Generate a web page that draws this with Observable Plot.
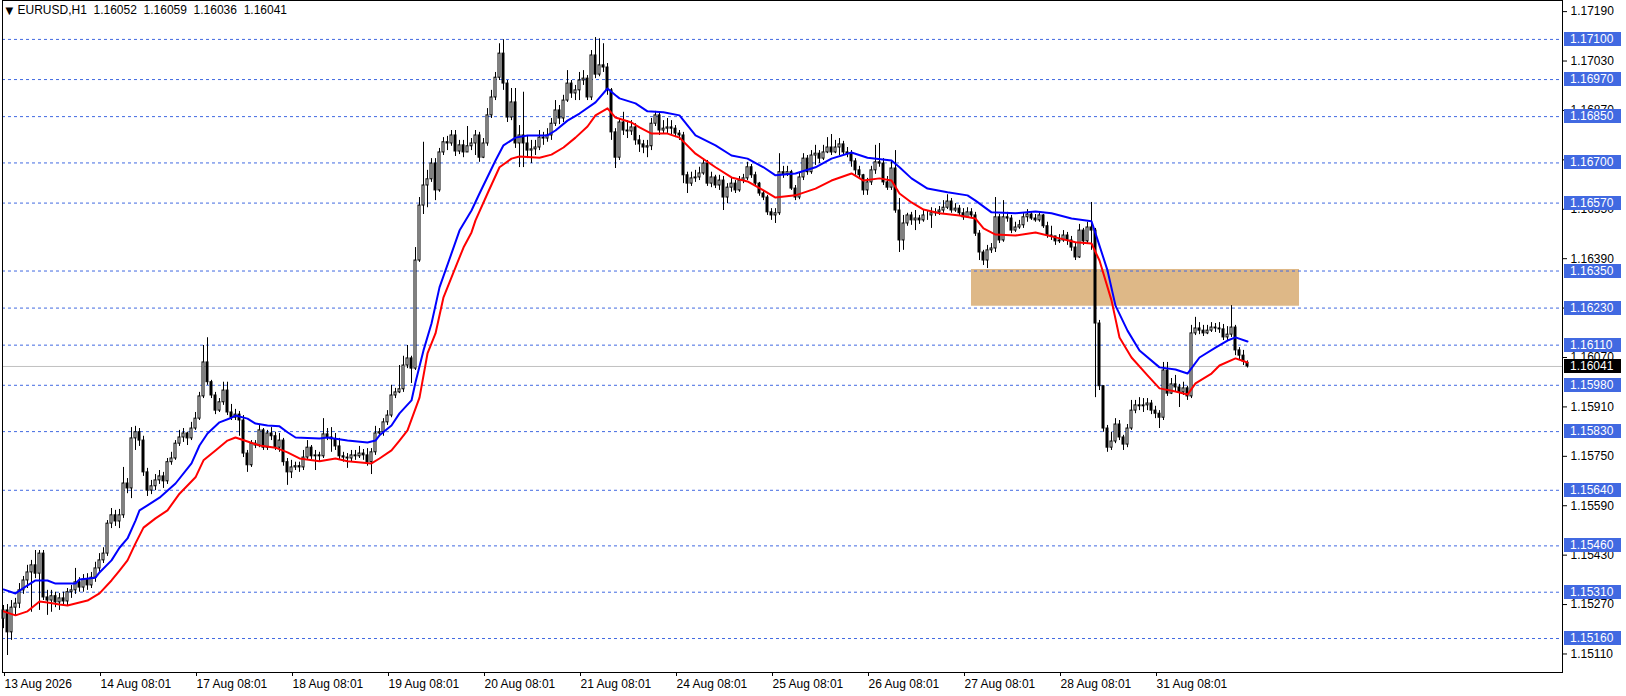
<!DOCTYPE html>
<html><head><meta charset="utf-8">
<script src="https://cdn.jsdelivr.net/npm/d3@7"></script>
<script src="https://cdn.jsdelivr.net/npm/@observablehq/plot@0.6"></script>
<style>html,body{margin:0;padding:0;background:#fff;}#chart{width:1626px;height:696px;overflow:hidden;}</style>
</head><body><div id="chart"></div>
<script>
// ---- EURUSD H1 candles (bar index 0..311) ----
const open = [
1.15224,1.15251,1.15180,1.15260,1.15273,1.15316,1.15348,1.15374,1.15397,1.15370,
1.15435,1.15293,1.15283,1.15297,1.15277,1.15290,1.15280,1.15310,1.15316,1.15342,
1.15325,1.15351,1.15332,1.15357,1.15387,1.15413,1.15435,1.15532,1.15559,1.15539,
1.15559,1.15662,1.15646,1.15808,1.15828,1.15801,1.15698,1.15639,1.15653,1.15672,
1.15685,1.15669,1.15731,1.15743,1.15791,1.15811,1.15824,1.15808,1.15840,1.15872,
1.15944,1.16054,1.15990,1.15947,1.15898,1.15925,1.15963,1.15892,1.15875,1.15885,
1.15866,1.15759,1.15721,1.15791,1.15785,1.15834,1.15778,1.15824,1.15815,1.15778,
1.15801,1.15731,1.15698,1.15714,1.15718,1.15714,1.15746,1.15778,1.15750,1.15753,
1.15750,1.15821,1.15811,1.15805,1.15782,1.15750,1.15746,1.15743,1.15753,1.15750,
1.15759,1.15753,1.15731,1.15763,1.15824,1.15828,1.15860,1.15882,1.15947,1.15957,
1.15967,1.16044,1.16067,1.16034,1.16384,1.16562,1.16627,1.16647,1.16698,1.16611,
1.16734,1.16767,1.16763,1.16789,1.16737,1.16757,1.16734,1.16754,1.16763,1.16789,
1.16717,1.16763,1.16854,1.16912,1.16976,1.17054,1.16957,1.16847,1.16896,1.16763,
1.16789,1.16763,1.16740,1.16744,1.16750,1.16782,1.16779,1.16789,1.16827,1.16870,
1.16844,1.16902,1.16957,1.16925,1.16935,1.16967,1.16973,1.16912,1.17048,1.16986,
1.17016,1.17009,1.16935,1.16799,1.16717,1.16831,1.16805,1.16802,1.16815,1.16773,
1.16760,1.16750,1.16754,1.16827,1.16854,1.16805,1.16811,1.16815,1.16811,1.16795,
1.16789,1.16660,1.16633,1.16650,1.16653,1.16666,1.16698,1.16633,1.16653,1.16627,
1.16643,1.16588,1.16620,1.16633,1.16611,1.16643,1.16650,1.16686,1.16660,1.16633,
1.16601,1.16588,1.16540,1.16530,1.16537,1.16670,1.16663,1.16670,1.16617,1.16588,
1.16653,1.16714,1.16670,1.16724,1.16730,1.16714,1.16734,1.16750,1.16734,1.16750,
1.16760,1.16734,1.16730,1.16705,1.16676,1.16660,1.16611,1.16637,1.16676,1.16702,
1.16698,1.16637,1.16620,1.16682,1.16546,1.16449,1.16504,1.16530,1.16514,1.16520,
1.16514,1.16530,1.16530,1.16537,1.16540,1.16546,1.16555,1.16575,1.16546,1.16552,
1.16537,1.16524,1.16540,1.16530,1.16471,1.16410,1.16384,1.16417,1.16423,1.16524,
1.16449,1.16524,1.16520,1.16481,1.16491,1.16498,1.16524,1.16533,1.16520,1.16514,
1.16530,1.16495,1.16465,1.16462,1.16446,1.16449,1.16465,1.16449,1.16426,1.16394,
1.16481,1.16446,1.16491,1.16481,1.16180,1.15977,1.15840,1.15778,1.15798,1.15853,
1.15811,1.15788,1.15840,1.15898,1.15915,1.15912,1.15915,1.15921,1.15898,1.15888,
1.15875,1.16028,1.15953,1.15983,1.15973,1.15957,1.15970,1.15944,1.16148,1.16164,
1.16157,1.16148,1.16157,1.16167,1.16164,1.16161,1.16135,1.16144,1.16167,1.16093,
1.16076,1.16052];
const high = [
1.15267,1.15270,1.15283,1.15290,1.15338,1.15361,1.15397,1.15413,1.15445,1.15445,
1.15445,1.15316,1.15316,1.15310,1.15306,1.15310,1.15322,1.15332,1.15387,1.15357,
1.15367,1.15370,1.15374,1.15407,1.15435,1.15454,1.15542,1.15581,1.15575,1.15578,
1.15714,1.15678,1.15843,1.15847,1.15840,1.15815,1.15711,1.15672,1.15691,1.15704,
1.15698,1.15743,1.15763,1.15801,1.15834,1.15840,1.15828,1.15860,1.15892,1.15957,
1.16109,1.16134,1.15996,1.15957,1.15937,1.15990,1.15990,1.15918,1.15902,1.15895,
1.15882,1.15769,1.15801,1.15801,1.15850,1.15840,1.15834,1.15843,1.15828,1.15824,
1.15808,1.15743,1.15737,1.15731,1.15731,1.15769,1.15801,1.15785,1.15769,1.15763,
1.15872,1.15840,1.15843,1.15824,1.15808,1.15763,1.15759,1.15769,1.15769,1.15782,
1.15772,1.15775,1.15775,1.15847,1.15840,1.15872,1.15898,1.15980,1.15970,1.16044,
1.16074,1.16109,1.16074,1.16426,1.16588,1.16767,1.16676,1.16714,1.16714,1.16747,
1.16782,1.16786,1.16805,1.16805,1.16773,1.16773,1.16818,1.16779,1.16805,1.16799,
1.16779,1.16876,1.16935,1.16993,1.17086,1.17099,1.16967,1.16941,1.16941,1.16821,
1.16929,1.16789,1.16773,1.16773,1.16805,1.16799,1.16811,1.16844,1.16902,1.16886,
1.16919,1.16999,1.16967,1.16951,1.16993,1.16999,1.16983,1.17064,1.17106,1.17102,
1.17086,1.17022,1.16941,1.16811,1.16844,1.16864,1.16837,1.16837,1.16827,1.16789,
1.16773,1.16773,1.16844,1.16867,1.16864,1.16837,1.16844,1.16837,1.16821,1.16805,
1.16799,1.16670,1.16670,1.16676,1.16686,1.16714,1.16708,1.16670,1.16660,1.16660,
1.16656,1.16633,1.16650,1.16643,1.16656,1.16663,1.16702,1.16695,1.16670,1.16637,
1.16611,1.16595,1.16552,1.16552,1.16730,1.16689,1.16689,1.16676,1.16627,1.16666,
1.16730,1.16724,1.16740,1.16757,1.16740,1.16757,1.16782,1.16792,1.16773,1.16779,
1.16770,1.16750,1.16740,1.16714,1.16689,1.16663,1.16650,1.16689,1.16757,1.16763,
1.16714,1.16656,1.16708,1.16740,1.16585,1.16530,1.16537,1.16540,1.16546,1.16530,
1.16546,1.16546,1.16555,1.16552,1.16559,1.16578,1.16597,1.16585,1.16568,1.16562,
1.16552,1.16555,1.16552,1.16540,1.16481,1.16417,1.16433,1.16439,1.16588,1.16533,
1.16578,1.16540,1.16530,1.16508,1.16514,1.16537,1.16549,1.16540,1.16533,1.16540,
1.16533,1.16508,1.16495,1.16462,1.16468,1.16481,1.16475,1.16462,1.16439,1.16501,
1.16488,1.16508,1.16572,1.16488,1.16190,1.15977,1.15850,1.15828,1.15872,1.15866,
1.15818,1.15853,1.15931,1.15931,1.15940,1.15937,1.15937,1.15931,1.15912,1.15898,
1.16054,1.16054,1.16002,1.16012,1.15983,1.15990,1.15977,1.16174,1.16200,1.16183,
1.16174,1.16174,1.16183,1.16180,1.16183,1.16177,1.16170,1.16238,1.16174,1.16102,
1.16093,1.16059];
const low = [
1.15192,1.15105,1.15154,1.15235,1.15257,1.15303,1.15322,1.15245,1.15354,1.15251,
1.15283,1.15235,1.15245,1.15260,1.15251,1.15264,1.15267,1.15290,1.15303,1.15310,
1.15310,1.15316,1.15322,1.15342,1.15374,1.15403,1.15426,1.15516,1.15523,1.15516,
1.15549,1.15629,1.15613,1.15769,1.15782,1.15685,1.15620,1.15626,1.15639,1.15659,
1.15646,1.15659,1.15721,1.15737,1.15782,1.15795,1.15785,1.15801,1.15834,1.15866,
1.15937,1.15980,1.15937,1.15885,1.15892,1.15915,1.15882,1.15866,1.15866,1.15815,
1.15746,1.15698,1.15714,1.15775,1.15778,1.15769,1.15769,1.15801,1.15769,1.15763,
1.15718,1.15656,1.15678,1.15704,1.15698,1.15704,1.15737,1.15740,1.15704,1.15731,
1.15743,1.15801,1.15763,1.15769,1.15737,1.15731,1.15711,1.15731,1.15737,1.15743,
1.15737,1.15718,1.15691,1.15753,1.15815,1.15815,1.15850,1.15875,1.15937,1.15953,
1.15957,1.16034,1.15986,1.16028,1.16378,1.16533,1.16555,1.16637,1.16578,1.16605,
1.16724,1.16740,1.16754,1.16721,1.16727,1.16717,1.16734,1.16740,1.16724,1.16702,
1.16714,1.16754,1.16844,1.16902,1.16967,1.16935,1.16831,1.16837,1.16747,1.16685,
1.16685,1.16714,1.16698,1.16724,1.16740,1.16757,1.16767,1.16773,1.16818,1.16824,
1.16831,1.16896,1.16909,1.16902,1.16902,1.16951,1.16902,1.16902,1.16973,1.16979,
1.16993,1.16919,1.16773,1.16682,1.16708,1.16789,1.16779,1.16789,1.16757,1.16734,
1.16730,1.16717,1.16740,1.16818,1.16789,1.16792,1.16795,1.16789,1.16782,1.16773,
1.16633,1.16601,1.16624,1.16637,1.16643,1.16660,1.16624,1.16620,1.16617,1.16611,
1.16546,1.16568,1.16605,1.16601,1.16605,1.16633,1.16643,1.16650,1.16624,1.16592,
1.16578,1.16530,1.16514,1.16504,1.16530,1.16650,1.16656,1.16611,1.16578,1.16581,
1.16643,1.16660,1.16663,1.16692,1.16698,1.16708,1.16730,1.16724,1.16730,1.16724,
1.16724,1.16717,1.16686,1.16660,1.16650,1.16595,1.16595,1.16627,1.16663,1.16686,
1.16627,1.16611,1.16611,1.16537,1.16410,1.16417,1.16495,1.16498,1.16481,1.16501,
1.16508,1.16514,1.16488,1.16527,1.16530,1.16537,1.16549,1.16537,1.16540,1.16527,
1.16514,1.16520,1.16520,1.16462,1.16384,1.16368,1.16358,1.16407,1.16410,1.16439,
1.16443,1.16508,1.16471,1.16475,1.16485,1.16488,1.16508,1.16514,1.16508,1.16508,
1.16488,1.16456,1.16449,1.16433,1.16439,1.16443,1.16433,1.16414,1.16384,1.16391,
1.16433,1.16436,1.16417,1.15940,1.15963,1.15828,1.15763,1.15769,1.15791,1.15801,
1.15769,1.15778,1.15834,1.15888,1.15898,1.15892,1.15898,1.15885,1.15872,1.15840,
1.15866,1.15944,1.15950,1.15957,1.15908,1.15947,1.15931,1.15937,1.16141,1.16144,
1.16138,1.16144,1.16151,1.16151,1.16148,1.16125,1.16125,1.16135,1.16076,1.16060,
1.16044,1.16036];
const close = [
1.15251,1.15180,1.15260,1.15273,1.15316,1.15348,1.15374,1.15397,1.15370,1.15435,
1.15293,1.15283,1.15297,1.15277,1.15290,1.15280,1.15310,1.15316,1.15342,1.15325,
1.15351,1.15332,1.15357,1.15387,1.15413,1.15435,1.15532,1.15559,1.15539,1.15559,
1.15662,1.15646,1.15808,1.15828,1.15801,1.15698,1.15639,1.15653,1.15672,1.15685,
1.15669,1.15731,1.15743,1.15791,1.15811,1.15824,1.15808,1.15840,1.15872,1.15944,
1.16054,1.15990,1.15947,1.15898,1.15925,1.15963,1.15892,1.15875,1.15885,1.15866,
1.15759,1.15721,1.15791,1.15785,1.15834,1.15778,1.15824,1.15815,1.15778,1.15801,
1.15731,1.15698,1.15714,1.15718,1.15714,1.15746,1.15778,1.15750,1.15753,1.15750,
1.15821,1.15811,1.15805,1.15782,1.15750,1.15746,1.15743,1.15753,1.15750,1.15759,
1.15753,1.15731,1.15763,1.15824,1.15828,1.15860,1.15882,1.15947,1.15957,1.15967,
1.16044,1.16067,1.16034,1.16384,1.16562,1.16627,1.16647,1.16698,1.16611,1.16734,
1.16767,1.16763,1.16789,1.16737,1.16757,1.16734,1.16754,1.16763,1.16789,1.16717,
1.16763,1.16854,1.16912,1.16976,1.17054,1.16957,1.16847,1.16896,1.16763,1.16789,
1.16763,1.16740,1.16744,1.16750,1.16782,1.16779,1.16789,1.16827,1.16870,1.16844,
1.16902,1.16957,1.16925,1.16935,1.16967,1.16973,1.16912,1.17048,1.16986,1.17016,
1.17009,1.16935,1.16799,1.16717,1.16831,1.16805,1.16802,1.16815,1.16773,1.16760,
1.16750,1.16754,1.16827,1.16854,1.16805,1.16811,1.16815,1.16811,1.16795,1.16789,
1.16660,1.16633,1.16650,1.16653,1.16666,1.16698,1.16633,1.16653,1.16627,1.16643,
1.16588,1.16620,1.16633,1.16611,1.16643,1.16650,1.16686,1.16660,1.16633,1.16601,
1.16588,1.16540,1.16530,1.16537,1.16670,1.16663,1.16670,1.16617,1.16588,1.16653,
1.16714,1.16670,1.16724,1.16730,1.16714,1.16734,1.16750,1.16734,1.16750,1.16760,
1.16734,1.16730,1.16705,1.16676,1.16660,1.16611,1.16637,1.16676,1.16702,1.16698,
1.16637,1.16620,1.16682,1.16546,1.16449,1.16504,1.16530,1.16514,1.16520,1.16514,
1.16530,1.16530,1.16537,1.16540,1.16546,1.16555,1.16575,1.16546,1.16552,1.16537,
1.16524,1.16540,1.16530,1.16471,1.16410,1.16384,1.16417,1.16423,1.16524,1.16449,
1.16524,1.16520,1.16481,1.16491,1.16498,1.16524,1.16533,1.16520,1.16514,1.16530,
1.16495,1.16465,1.16462,1.16446,1.16449,1.16465,1.16449,1.16426,1.16394,1.16481,
1.16446,1.16491,1.16481,1.16180,1.15977,1.15840,1.15778,1.15798,1.15853,1.15811,
1.15788,1.15840,1.15898,1.15915,1.15912,1.15915,1.15921,1.15898,1.15888,1.15875,
1.16028,1.15953,1.15983,1.15973,1.15957,1.15970,1.15944,1.16148,1.16164,1.16157,
1.16148,1.16157,1.16167,1.16164,1.16161,1.16135,1.16144,1.16167,1.16093,1.16076,
1.16057,1.16041];

// ---- moving averages (read at bar positions) ----
const blueBar = [0,3,6,8,11,13,18,19,23,24,27,29,31,33,34,36,39,43,47,49,51,54,57,58,61,63,66,69,71,73,79,81,86,91,93,94,97,99,102,103,105,107,109,112,114,117,119,123,125,128,131,136,138,141,144,148,151,153,154,158,161,165,169,173,178,182,186,190,193,198,203,207,212,216,222,224,227,231,236,241,243,247,253,258,262,267,272,273,276,278,281,284,289,293,296,299,303,306,308,311];
const bluePrice = [1.15319,1.15306,1.15332,1.15348,1.15348,1.15338,1.15338,1.15351,1.15357,1.15374,1.15413,1.15454,1.15484,1.15542,1.15575,1.15591,1.15616,1.15662,1.15727,1.15785,1.15824,1.15860,1.15875,1.15882,1.15872,1.15856,1.15850,1.15847,1.15828,1.15811,1.15808,1.15811,1.15801,1.15795,1.15801,1.15818,1.15850,1.15889,1.15931,1.15990,1.16093,1.16180,1.16297,1.16407,1.16481,1.16546,1.16601,1.16708,1.16757,1.16782,1.16789,1.16789,1.16805,1.16837,1.16860,1.16896,1.16941,1.16919,1.16909,1.16893,1.16867,1.16864,1.16854,1.16789,1.16757,1.16724,1.16714,1.16686,1.16660,1.16666,1.16686,1.16714,1.16734,1.16717,1.16708,1.16686,1.16650,1.16617,1.16605,1.16595,1.16578,1.16540,1.16537,1.16543,1.16537,1.16520,1.16511,1.16472,1.16352,1.16238,1.16157,1.16093,1.16038,1.16031,1.16018,1.16070,1.16102,1.16125,1.16135,1.16122];
const redBar = [0,3,6,9,11,14,16,21,24,27,29,31,33,35,38,41,44,48,50,53,56,58,61,64,68,71,74,79,83,86,92,94,97,99,101,104,106,108,110,113,115,117,118,121,124,127,129,134,137,140,143,146,148,151,153,157,159,162,166,169,173,178,182,186,190,193,198,203,207,212,215,219,222,224,227,230,234,239,243,245,248,253,258,263,268,272,274,277,279,282,286,289,293,296,298,302,304,308,311];
const redPrice = [1.15248,1.15235,1.15248,1.15280,1.15277,1.15270,1.15267,1.15283,1.15306,1.15348,1.15380,1.15413,1.15468,1.15519,1.15549,1.15575,1.15629,1.15682,1.15737,1.15769,1.15801,1.15811,1.15798,1.15785,1.15778,1.15763,1.15743,1.15734,1.15743,1.15734,1.15727,1.15743,1.15769,1.15801,1.15834,1.15940,1.16083,1.16148,1.16265,1.16362,1.16426,1.16475,1.16514,1.16601,1.16686,1.16714,1.16721,1.16717,1.16727,1.16750,1.16782,1.16818,1.16854,1.16877,1.16847,1.16831,1.16815,1.16795,1.16795,1.16782,1.16730,1.16686,1.16653,1.16640,1.16611,1.16588,1.16595,1.16617,1.16643,1.16666,1.16643,1.16650,1.16643,1.16601,1.16572,1.16549,1.16537,1.16530,1.16520,1.16488,1.16468,1.16465,1.16475,1.16459,1.16443,1.16439,1.16384,1.16255,1.16135,1.16070,1.16012,1.15970,1.15960,1.15950,1.15986,1.16018,1.16044,1.16067,1.16054];

// ---- annotations ----
const levels = [1.17100,1.16970,1.16850,1.16700,1.16570,1.16350,1.16230,1.16110,1.15980,1.15830,1.15640,1.15460,1.15310,1.15160];
const priceTicks = [1.17190,1.17030,1.16870,1.16710,1.16550,1.16390,1.16230,1.16070,1.15910,1.15750,1.15590,1.15430,1.15270,1.15110];
const lastPrice = 1.16041;
const zoneBars = [242, 324];
const zonePrices = [1.16236, 1.16355];
const dayBars = [0,24,48,72,96,120,144,168,192,216,240,264,288];
const dayLabels = ["13 Aug 2026","14 Aug 08:01","17 Aug 08:01","18 Aug 08:01","19 Aug 08:01","20 Aug 08:01","21 Aug 08:01","24 Aug 08:01","25 Aug 08:01","26 Aug 08:01","27 Aug 08:01","28 Aug 08:01","31 Aug 08:01"];
const titleSymbol = "EURUSD,H1";
const titleOHLC = [1.16052, 1.16059, 1.16036, 1.16041];

const FONT = "'Liberation Sans', Arial, sans-serif";
const bars = close.map((c, i) => ({i, open: open[i], high: high[i], low: low[i], close: c, up: c >= open[i]}));
const blue = blueBar.map((b, k) => ({bar: b, price: bluePrice[k]}));
const red = redBar.map((b, k) => ({bar: b, price: redPrice[k]}));
const labelOf = new Map(dayBars.map((b, k) => [b, dayLabels[k]]));

const chart = Plot.plot({
  width: 1626, height: 696,
  marginLeft: 2, marginRight: 64, marginTop: 0, marginBottom: 24,
  x: {type: "linear", domain: [-0.25, 389.75]},
  y: {type: "linear", domain: [1.15050, 1.17226]},
  style: {fontFamily: FONT, fontSize: "12px", color: "black", background: "white", overflow: "visible"},
  marks: [
    Plot.rect([0], {x1: () => zoneBars[0], x2: () => zoneBars[1], y1: () => zonePrices[0], y2: () => zonePrices[1], fill: "#DEB887"}),
    Plot.ruleY(levels, {stroke: "#4169E1", strokeWidth: 1, strokeDasharray: "3,3"}),
    Plot.ruleY([lastPrice], {stroke: "#C0C0C0", strokeWidth: 1}),
    Plot.ruleX(bars, {x: "i", y1: "low", y2: "high", stroke: "black", strokeWidth: 1}),
    Plot.rect(bars, {x1: d => d.i - 0.25, x2: d => d.i + 0.25, y1: "open", y2: "close",
      fill: d => d.up ? "white" : "black", stroke: "black", strokeWidth: 1}),
    Plot.line(red, {x: "bar", y: "price", stroke: "#FF0000", strokeWidth: 2}),
    Plot.line(blue, {x: "bar", y: "price", stroke: "#0000FF", strokeWidth: 2}),
    Plot.text(["\u25BC"], {frameAnchor: "top-left", dx: 3, dy: 6, fontSize: 10, fill: "black", lineAnchor: "top", textAnchor: "start", fontFamily: "DejaVu Sans"}),
    Plot.text([titleSymbol], {frameAnchor: "top-left", dx: 15, dy: 5, fontSize: 12, fill: "black", lineAnchor: "top", textAnchor: "start"}),
    Plot.text([titleOHLC.map(v => v.toFixed(5)).join("\u00A0 ")], {frameAnchor: "top-left", dx: 91, dy: 5, fontSize: 12, fill: "black", lineAnchor: "top", textAnchor: "start"}),
    Plot.axisY(priceTicks, {anchor: "right", tickSize: 4, tickPadding: 4, tickFormat: d => d.toFixed(5), label: null, fontSize: 12}),
    Plot.axisX(dayBars, {anchor: "bottom", tickSize: 4, tickPadding: 3, tickFormat: d => labelOf.get(d), textAnchor: "start", dx: 1, label: null, fontSize: 12}),
    Plot.frame({stroke: "black"})
  ]
});
document.getElementById("chart").append(chart);

// price badges in the right margin, placed with the chart's own scales
const ys = chart.scale("y"), xs = chart.scale("x");
const bx = xs.range[1] + 2;
const g = d3.select(chart).append("g")
  .attr("font-family", FONT).attr("font-size", 12).attr("text-anchor", "start");
function badge(v, bg) {
  const y = Math.round(ys.apply(v));
  g.append("rect").attr("x", bx).attr("y", y - 7).attr("width", 57).attr("height", 14).attr("fill", bg);
  g.append("text").attr("x", bx + 6).attr("y", y).attr("dy", "0.36em")
    .attr("text-anchor", "start").attr("fill", "white").text(v.toFixed(5));
}
levels.forEach(v => badge(v, "#4169E1"));
badge(lastPrice, "#000000");
</script>
</body></html>
